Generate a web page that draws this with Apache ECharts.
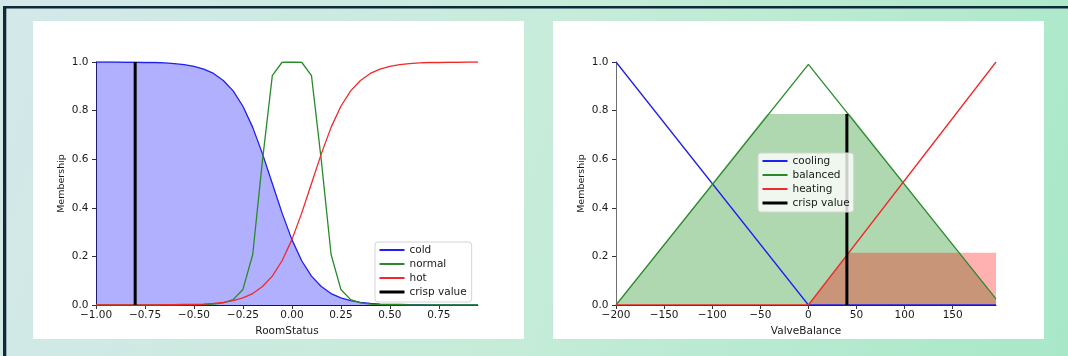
<!DOCTYPE html>
<html>
<head>
<meta charset="utf-8">
<script src="https://cdn.jsdelivr.net/npm/echarts@6/dist/echarts.min.js"></script>
<style>
html,body{margin:0;padding:0;}
#chart{width:1068px;height:356px;}
</style>
</head>
<body>
<div id="chart"></div>
<script>
// ---------- data: left panel (RoomStatus) ----------
const roomX = [-1.00,-0.95,-0.90,-0.85,-0.80,-0.75,-0.70,-0.65,-0.60,-0.55,-0.50,-0.45,-0.40,-0.35,-0.30,-0.25,-0.20,-0.15,-0.10,-0.05,
               0.00,0.05,0.10,0.15,0.20,0.25,0.30,0.35,0.40,0.45,0.50,0.55,0.60,0.65,0.70,0.75,0.80,0.85,0.90,0.95];
const coldVals = [1.000,1.000,1.000,0.999,0.999,0.998,0.998,0.996,0.993,0.989,0.982,0.971,0.953,0.924,0.881,0.818,0.731,0.622,0.500,0.378,
                  0.269,0.182,0.119,0.076,0.047,0.029,0.018,0.011,0.007,0.004,0.002,0.002,0.001,0.001,0.000,0.000,0.000,0.000,0.000,0.000];
const normalVals = [0.000,0.000,0.000,0.000,0.000,0.000,0.000,0.000,0.000,0.001,0.001,0.002,0.004,0.009,0.022,0.064,0.208,0.596,0.944,0.999,
                    1.000,0.999,0.944,0.596,0.208,0.064,0.022,0.009,0.004,0.002,0.001,0.001,0.000,0.000,0.000,0.000,0.000,0.000,0.000,0.000];
const hotVals = [0.000,0.000,0.000,0.000,0.000,0.000,0.000,0.001,0.001,0.002,0.002,0.004,0.007,0.011,0.018,0.029,0.047,0.076,0.119,0.182,
                 0.269,0.378,0.500,0.622,0.731,0.818,0.881,0.924,0.953,0.971,0.982,0.989,0.993,0.996,0.998,0.998,0.999,0.999,1.000,1.000];
const roomCrisp = -0.80;
const roomCrispHeight = 1.0;
const roomTicks = [-1.00,-0.75,-0.50,-0.25,0.00,0.25,0.50,0.75];

// ---------- data: right panel (ValveBalance) ----------
const coolingPts  = [[-200,1.0],[0,0.0],[195,0.0]];
const balancedPts = [[-200,0.0],[0,0.99],[195,0.025]];
const heatingPts  = [[-200,0.0],[0,0.0],[195,1.0]];
const balancedClipPts = [[-200,0.0],[-43,0.786],[43,0.786],[195,0.025]];
const heatingClipPts  = [[0,0.0],[42,0.215],[195,0.215]];
const valveCrisp = 40;
const valveCrispHeight = 0.786;
const valveTicks = [-200,-150,-100,-50,0,50,100,150];

const yTicks = [0,0.2,0.4,0.6,0.8,1.0];

// ---------- chart ----------
const FONT = 'DejaVu Sans';
const TXT = '#1a1a1a';
const minus = s => s.replace('-', '\u2212');
const zip = (xs, ys) => xs.map((x, i) => [x, ys[i]]);

function xAxisCfg(idx, min, max, ticks, fmt, name, lineColor) {
  return {
    type: 'value', gridIndex: idx, min: min, max: max,
    name: name, nameLocation: 'middle', nameGap: 16,
    nameTextStyle: {fontFamily: FONT, fontSize: 10.5, color: TXT},
    axisLine: {show: true, onZero: false, lineStyle: {color: lineColor, width: 1}},
    axisTick: {show: true, length: 4, customValues: ticks, lineStyle: {color: '#333'}},
    axisLabel: {customValues: ticks, margin: 5, fontFamily: FONT, fontSize: 10.5, color: TXT, formatter: fmt},
    splitLine: {show: false}
  };
}
function yAxisCfg(idx, lineColor) {
  return {
    type: 'value', gridIndex: idx, min: 0, max: 1,
    name: 'Membership', nameLocation: 'middle', nameGap: 29,
    nameTextStyle: {fontFamily: FONT, fontSize: 9.5, color: TXT},
    axisLine: {show: true, onZero: false, lineStyle: {color: lineColor, width: 1}},
    axisTick: {show: true, length: 4, customValues: yTicks, lineStyle: {color: '#333'}},
    axisLabel: {customValues: yTicks, margin: 7.5, fontFamily: FONT, fontSize: 10.5, color: TXT, formatter: v => v.toFixed(1)},
    splitLine: {show: false}
  };
}
function lineSeries(name, data, color, width, xi) {
  return {type: 'line', name: name, data: data, xAxisIndex: xi, yAxisIndex: xi,
    symbol: 'none', smooth: false, lineStyle: {color: color, width: width}, itemStyle: {color: color},
    animation: false, z: 3};
}
function fillSeries(data, color, xi) {
  return {type: 'line', name: '_fill' + xi + color, data: data, xAxisIndex: xi, yAxisIndex: xi,
    symbol: 'none', lineStyle: {width: 0, opacity: 0}, areaStyle: {color: color, opacity: 1, origin: 0},
    silent: true, animation: false, z: 2};
}
function legendCfg(left, top, names, padding) {
  return {
    orient: 'vertical', left: left, top: top, padding: padding,
    itemWidth: 25, itemHeight: 10, itemGap: 0,
    backgroundColor: 'rgba(255,255,255,0.8)', borderColor: '#d4d4d4', borderWidth: 1, borderRadius: 3,
    textStyle: {fontFamily: FONT, fontSize: 10.5, color: TXT, lineHeight: 14},
    itemStyle: {opacity: 0, borderWidth: 0},
    data: names.map(n => n === 'crisp value' ? {name: n, lineStyle: {width: 3}} : {name: n}),
    selectedMode: false
  };
}

const chart = echarts.init(document.getElementById('chart'), null, {renderer: 'canvas'});
chart.setOption({
  animation: false,
  backgroundColor: new echarts.graphic.LinearGradient(0, 0, 1, 1, [
    {offset: 0, color: '#d4e8ea'}, {offset: 0.5, color: '#c6ecd9'}, {offset: 1, color: '#a8e8c8'}
  ]),
  graphic: [
    {type: 'rect', shape: {x: 3, y: 6, width: 1065, height: 2.5}, style: {fill: '#0e2a38'}, z: -10},
    {type: 'rect', shape: {x: 3, y: 6, width: 3.3, height: 350}, style: {fill: '#0e2a38'}, z: -10},
    {type: 'rect', shape: {x: 33, y: 21, width: 491, height: 318}, style: {fill: '#ffffff'}, z: -10},
    {type: 'rect', shape: {x: 553, y: 21, width: 491, height: 318}, style: {fill: '#ffffff'}, z: -10}
  ],
  grid: [
    {left: 96, top: 62, width: 382, height: 243},
    {left: 616, top: 62, width: 380, height: 243}
  ],
  xAxis: [
    xAxisCfg(0, -1, 0.95, roomTicks, v => minus(v.toFixed(2)), 'RoomStatus', '#1a1a1a'),
    xAxisCfg(1, -200, 195, valveTicks, v => minus(String(Math.round(v))), 'ValveBalance', '#1a1a1a')
  ],
  yAxis: [yAxisCfg(0, '#2a2a2a'), yAxisCfg(1, '#6e6e6e')],
  legend: [
    legendCfg(375, 242, ['cold', 'normal', 'hot', 'crisp value'], [1, 5, 3, 3]),
    legendCfg(758, 153, ['cooling', 'balanced', 'heating', 'crisp value'], [1, 4, 2, 3])
  ],
  series: [
    fillSeries(zip(roomX, coldVals), 'rgba(0,0,255,0.31)', 0),
    lineSeries('cold', zip(roomX, coldVals), '#1f1ff0', 1.3, 0),
    lineSeries('normal', zip(roomX, normalVals), '#2a8a2a', 1.3, 0),
    lineSeries('hot', zip(roomX, hotVals), '#f02a2a', 1.3, 0),
    lineSeries('crisp value', [[roomCrisp, 0], [roomCrisp, roomCrispHeight]], '#000000', 3, 0),

    fillSeries(balancedClipPts, 'rgba(0,128,0,0.31)', 1),
    fillSeries(heatingClipPts, 'rgba(255,0,0,0.31)', 1),
    lineSeries('cooling', coolingPts, '#1f1ff0', 1.3, 1),
    lineSeries('balanced', balancedPts, '#2a8a2a', 1.3, 1),
    lineSeries('heating', heatingPts, '#f02a2a', 1.3, 1),
    lineSeries('crisp value', [[valveCrisp, 0], [valveCrisp, valveCrispHeight]], '#000000', 3, 1)
  ]
});
</script>
</body>
</html>
